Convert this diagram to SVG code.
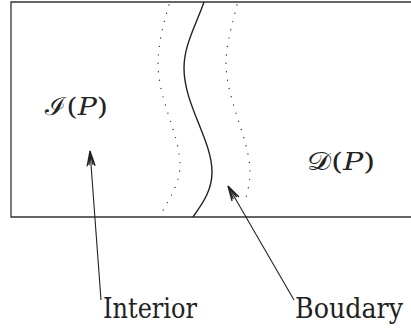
<svg xmlns="http://www.w3.org/2000/svg" width="411" height="328" viewBox="0 0 411 328">
<style>
.frame{fill:none;stroke:#333;stroke-width:1.3}
.solid{fill:none;stroke:#222;stroke-width:1.4}
.dot{fill:none;stroke:#333;stroke-width:1.4;stroke-linecap:round;stroke-dasharray:0 8.5}
.arr{fill:none;stroke:#222;stroke-width:1.1}
.lbl{font-family:"DejaVu Serif","Liberation Serif",serif;font-size:27px;fill:#222}
.math{font-family:"DejaVu Serif","Liberation Serif",serif;font-size:25px;fill:#222}
</style>
<defs>
<marker id="ah" viewBox="-16 -6 18 12" refX="0" refY="0" markerWidth="18" markerHeight="12" markerUnits="userSpaceOnUse" orient="auto">
<path d="M0,0 L-15,-4 M0,0 L-15,4 M0,0 L-14,-2 M0,0 L-14,2" fill="none" stroke="#222" stroke-width="1.3"/>
</marker>
</defs>
<g id="region">
<path class="frame" d="M411,2 L11,2 L11,217 L411,217"/>
</g>
<g id="boundary-curves">
<path class="solid" d="M204,2 C196,25 184,45 184,68 C184,105 212,140 212,172 C212,192 201,205 193,217"/>
<path class="dot" d="M169,5 C163,25 158,45 158,63 C158,100 180,135 180,165 C180,185 168,200 160,216"/>
<path class="dot" d="M237,5 C232,25 226,45 226,63 C226,100 250,140 250,172 C250,184 247,193 245,201"/>
</g>
<g id="interior-label">
<text class="math" x="45" y="115" textLength="63" lengthAdjust="spacingAndGlyphs">ℐ(<tspan font-style="italic">P</tspan>)</text>
</g>
<g id="d-label">
<text class="math" x="307" y="170" textLength="68" lengthAdjust="spacingAndGlyphs">𝒟(<tspan font-style="italic">P</tspan>)</text>
</g>
<g id="interior">
<text class="lbl" x="103" y="318" textLength="94" lengthAdjust="spacingAndGlyphs">Interior</text>
</g>
<g id="boudary">
<text class="lbl" x="295" y="318" textLength="108" lengthAdjust="spacingAndGlyphs">Boudary</text>
</g>
<g id="connectors">
<path class="arr" d="M101,300 L90,151" marker-end="url(#ah)"/>
<path class="arr" d="M294,300 L228,186" marker-end="url(#ah)"/>
</g>
</svg>
